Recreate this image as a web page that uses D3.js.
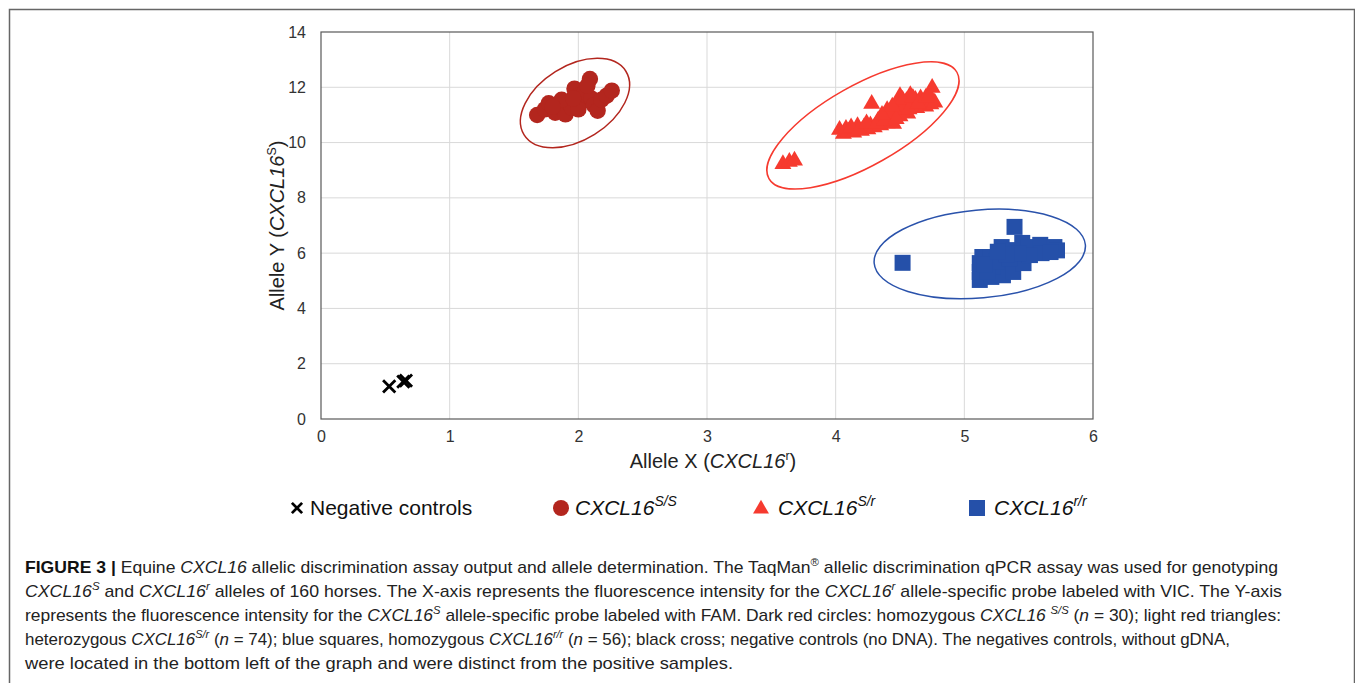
<!DOCTYPE html>
<html><head><meta charset="utf-8">
<script src="https://cdn.jsdelivr.net/npm/d3@7"></script>
<style>body{margin:0;background:#fff}svg{display:block}</style>
</head><body>
<svg id="c" width="1355" height="683"></svg>
<script>
// ---------- data ----------
const xTicks = [0,1,2,3,4,5,6];
const yTicks = [0,2,4,6,8,10,12,14];
const negControls = [[0.53,1.18],[0.64,1.35],[0.66,1.39]];
const homSS = [[1.68,11.0],[1.74,11.2],[1.77,11.42],[1.82,11.08],[1.85,11.3],[1.9,11.02],[1.92,11.45],[1.95,11.25],
  [1.97,11.95],[2.0,11.7],[2.03,11.5],[2.05,11.85],[2.09,12.3],[2.1,11.6],[2.12,11.35],[2.15,11.15],[2.18,11.55],
  [2.22,11.7],[2.26,11.88],[1.87,11.55],[2.07,12.05],[2.0,11.2],[1.8,11.3],[1.96,11.6]];
const hetSr = [[3.59,9.22],[3.64,9.3],[3.68,9.35],
  [4.03,10.46],[4.06,10.32],[4.1,10.4],[4.14,10.36],[4.17,10.6],[4.2,10.42],[4.22,10.55],[4.25,10.48],[4.27,10.62],
  [4.28,11.4],[4.3,10.55],[4.33,10.8],[4.35,10.62],[4.37,10.95],[4.4,11.18],[4.4,10.7],[4.43,10.9],[4.45,10.68],
  [4.46,11.1],[4.48,11.4],[4.5,11.68],[4.5,10.95],[4.53,11.25],[4.55,11.5],[4.56,11.05],[4.58,11.72],[4.6,11.35],
  [4.62,11.55],[4.63,11.25],[4.66,11.6],[4.68,11.45],[4.7,11.3],[4.72,11.5],[4.74,11.38],[4.75,11.98],[4.77,11.45],
  [4.08,10.5],[4.12,10.55],[4.18,10.45],[4.24,10.7],[4.32,10.68],[4.38,10.8],[4.42,11.05],[4.47,10.85],[4.52,11.55],
  [4.57,11.2],[4.6,11.62],[4.64,11.4],[4.7,11.62],[4.73,11.7],[4.36,11.0],[4.44,11.3]];
const homRR = [[4.52,5.65],
  [5.12,5.03],[5.12,5.32],[5.12,5.64],[5.14,5.86],[5.2,5.86],[5.21,5.14],[5.29,6.22],[5.3,5.5],[5.3,5.2],[5.38,6.11],
  [5.39,6.95],[5.38,5.32],[5.45,6.37],[5.46,5.64],[5.5,6.22],[5.59,6.3],[5.6,6.0],[5.7,6.22],[5.72,6.1],[5.67,6.04],
  [5.51,5.93],[5.22,5.5],[5.18,5.32],[5.25,5.7],[5.35,5.8],[5.42,6.0],[5.33,5.95],[5.16,5.6],[5.26,6.05]];
// cluster ellipse centres (data units)
const clusterCentres = [[1.974,11.43],[4.212,10.62],[5.12,5.97]];
const legendLabels = ["Negative controls","CXCL16","CXCL16","CXCL16"];
const legendSups = ["","S/S","S/r","r/r"];

// ---------- layout ----------
const svg = d3.select("#c");
const colors = {ss:"#b3261e", sr:"#f63a2f", rr:"#2550a9", neg:"#000"};
const font = "'Liberation Sans', Arial, sans-serif";

// frame
svg.append("rect").attr("x",9.5).attr("y",9.5).attr("width",1345).attr("height",700)
  .attr("fill","none").attr("stroke","#666").attr("stroke-width",1.5);

const x = d3.scaleLinear().domain([0,6]).range([321,1093]);
const y = d3.scaleLinear().domain([0,14]).range([419,32]);

// grid
svg.append("g").selectAll("line").data(xTicks.slice(1,-1)).join("line")
  .attr("x1",d=>x(d)).attr("x2",d=>x(d)).attr("y1",y(0)).attr("y2",y(14))
  .attr("stroke","#d9d9d9").attr("stroke-width",1);
svg.append("g").selectAll("line").data(yTicks.slice(1,-1)).join("line")
  .attr("y1",d=>y(d)).attr("y2",d=>y(d)).attr("x1",x(0)).attr("x2",x(6))
  .attr("stroke","#d9d9d9").attr("stroke-width",1);
svg.append("rect").attr("x",x(0)).attr("y",y(14)).attr("width",x(6)-x(0)).attr("height",y(0)-y(14))
  .attr("fill","none").attr("stroke","#595959").attr("stroke-width",1.2);

// axes
const ax = svg.append("g").attr("transform",`translate(0,${y(0)})`)
  .call(d3.axisBottom(x).tickValues(xTicks).tickSize(0).tickPadding(12).tickFormat(d3.format("d")));
const ay = svg.append("g").attr("transform",`translate(${x(0)},0)`)
  .call(d3.axisLeft(y).tickValues(yTicks).tickSize(0).tickPadding(15).tickFormat(d3.format("d")));
[ax,ay].forEach(g=>{g.select(".domain").remove();
  g.selectAll("text").attr("font-family",font).attr("font-size",16).attr("fill","#333");});

// axis titles
function geneLabel(sel, pre, sup, size){
  sel.attr("font-family",font).attr("font-size",size).attr("fill","#222");
  sel.append("tspan").text(pre);
  sel.append("tspan").attr("font-style","italic").text("CXCL16");
  sel.append("tspan").attr("font-size",size*0.62).attr("dy",-size*0.38).text(sup);
  sel.append("tspan").attr("dy",size*0.38).text(")");
}
geneLabel(svg.append("text").attr("x",x(3)+6).attr("y",468).attr("text-anchor","middle"),"Allele X (","r",20);
geneLabel(svg.append("text").attr("transform",`translate(284,${(y(0)+y(14))/2}) rotate(-90)`).attr("text-anchor","middle"),"Allele Y (","S",20);

// ellipses
const ellStyle = [{c:colors.ss,a:60,b:37,rot:-32},{c:colors.sr,a:108,b:40,rot:-29.5},{c:"#2a52ab",a:106,b:44,rot:-5}];
svg.append("g").selectAll("ellipse").data(clusterCentres).join("ellipse")
  .attr("cx",0).attr("cy",0)
  .attr("rx",(d,i)=>ellStyle[i].a).attr("ry",(d,i)=>ellStyle[i].b)
  .attr("transform",(d,i)=>`translate(${x(d[0])},${y(d[1])}) rotate(${ellStyle[i].rot})`)
  .attr("fill","none").attr("stroke",(d,i)=>ellStyle[i].c).attr("stroke-width",1.5);

// points
const tri = d3.symbol().type(d3.symbolTriangle).size(125);
const sq = d3.symbol().type(d3.symbolSquare).size(256);
const cross = d3.symbol().type(d3.symbolX).size(100);
svg.append("g").selectAll("path").data(homRR).join("path")
  .attr("d",sq).attr("transform",d=>`translate(${x(d[0])},${y(d[1])})`).attr("fill",colors.rr);
svg.append("g").selectAll("path").data(hetSr).join("path")
  .attr("d",tri).attr("transform",d=>`translate(${x(d[0])},${y(d[1])})`).attr("fill",colors.sr);
svg.append("g").selectAll("circle").data(homSS).join("circle")
  .attr("cx",d=>x(d[0])).attr("cy",d=>y(d[1])).attr("r",8.2).attr("fill",colors.ss);
svg.append("g").selectAll("path").data(negControls).join("path")
  .attr("d",cross).attr("transform",d=>`translate(${x(d[0])},${y(d[1])})`)
  .attr("fill","none").attr("stroke","#000").attr("stroke-width",2.8);

// legend
const legY = 508;
const lg = svg.append("g");
lg.append("path").attr("d",d3.symbol().type(d3.symbolX).size(70)).attr("transform",`translate(297,${legY})`)
  .attr("fill","none").attr("stroke","#000").attr("stroke-width",2.8);
lg.append("circle").attr("cx",561).attr("cy",legY).attr("r",8).attr("fill",colors.ss);
lg.append("path").attr("d",d3.symbol().type(d3.symbolTriangle).size(110)).attr("transform",`translate(761,${legY+1})`).attr("fill",colors.sr);
lg.append("rect").attr("x",969).attr("y",legY-8).attr("width",16).attr("height",16).attr("fill",colors.rr);
const legX = [310,575,778,994];
legendLabels.forEach((t,i)=>{
  const tx = lg.append("text").attr("x",legX[i]).attr("y",legY+7).attr("font-family",font).attr("font-size",21).attr("fill","#111");
  if(i===0){tx.text(t);}
  else{
    tx.append("tspan").attr("font-style","italic").text(t);
    tx.append("tspan").attr("font-style","italic").attr("font-size",14).attr("dy",-9).text(legendSups[i]);
  }
});

// caption
const capFont = "'Liberation Sans Narrow','Arial Narrow','Liberation Sans',Arial,sans-serif";
const capLines = [
  {end:1278, parts:[["b","FIGURE 3 | "],["n","Equine "],["i","CXCL16"],["n"," allelic discrimination assay output and allele determination. The TaqMan"],["sup","®"],["n"," allelic discrimination qPCR assay was used for genotyping"]]},
  {end:1282, parts:[["i","CXCL16"],["sup","S"],["n"," and "],["i","CXCL16"],["sup","r"],["n"," alleles of 160 horses. The X-axis represents the fluorescence intensity for the "],["i","CXCL16"],["sup","r"],["n"," allele-specific probe labeled with VIC. The Y-axis"]]},
  {end:1281, parts:[["n","represents the fluorescence intensity for the "],["i","CXCL16"],["sup","S"],["n"," allele-specific probe labeled with FAM. Dark red circles: homozygous "],["i","CXCL16 "],["sup","S/S"],["n"," ("],["i","n"],["n"," = 30); light red triangles:"]]},
  {end:1230, parts:[["n","heterozygous "],["i","CXCL16"],["sup","S/r"],["n"," ("],["i","n"],["n"," = 74); blue squares, homozygous "],["i","CXCL16"],["sup","r/r"],["n"," ("],["i","n"],["n"," = 56); black cross; negative controls (no DNA). The negatives controls, without gDNA,"]]},
  {end:733, parts:[["n","were located in the bottom left of the graph and were distinct from the positive samples."]]}
];
capLines.forEach((ln,li)=>{
  const t = svg.append("text").attr("x",25).attr("y",573+li*24).attr("font-family",capFont).attr("font-size",17).attr("fill","#222")
    .attr("textLength",ln.end-25).attr("lengthAdjust","spacingAndGlyphs");
  let up=false;
  ln.parts.forEach(([k,s])=>{
    const sp = t.append("tspan").text(s);
    if(k==="b") sp.attr("font-weight","bold").attr("fill","#111");
    if(k==="i") sp.attr("font-style","italic");
    if(k==="sup"){ sp.attr("font-style", s==="®"?"normal":"italic").attr("font-size",11).attr("dy",-7); up=true; }
    else if(up){ sp.attr("dy",7); up=false; }
  });
});
</script>
</body></html>
